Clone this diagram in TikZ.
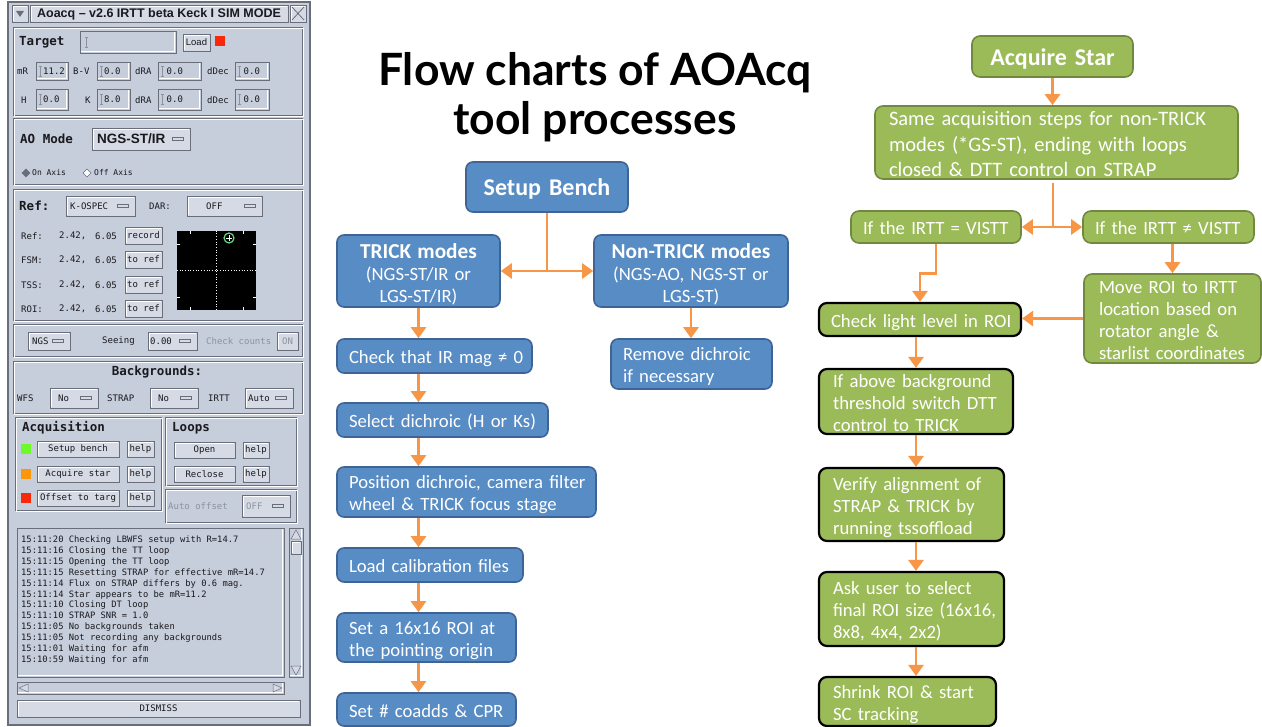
\documentclass[tikz,border=0pt]{standalone}
\usepackage{fontspec}
\setmainfont{Carlito}
\newfontfamily\gm{DejaVu Sans Mono}
\newfontfamily\gs{Liberation Sans}
\newfontfamily\tf{Lato}
\usetikzlibrary{arrows.meta,calc}
\definecolor{guibg}{RGB}{199,206,219}
\definecolor{btnface}{RGB}{213,218,228}
\definecolor{guidark}{RGB}{105,110,122}
\definecolor{guitext}{RGB}{25,25,30}
\definecolor{guigray}{RGB}{140,146,158}
\definecolor{guired}{RGB}{250,40,10}
\definecolor{guigreen}{RGB}{110,250,40}
\definecolor{guiorange}{RGB}{250,150,10}
\definecolor{starcol}{RGB}{100,215,130}
\definecolor{fcblue}{RGB}{88,140,197}
\definecolor{fcblueb}{RGB}{62,100,150}
\definecolor{fcgreen}{RGB}{155,187,89}
\definecolor{fcgreenb}{RGB}{113,137,63}
\definecolor{fcorange}{RGB}{247,150,70}
\tikzset{
  raised/.style={fill=btnface, draw=guidark, line width=0.6pt, inner sep=0pt,
    path picture={\draw[white, line width=1.2pt] ([shift={(1.2pt,1.2pt)}]path picture bounding box.south west) |- ([shift={(-1.2pt,-1.2pt)}]path picture bounding box.north east);}},
  sunken/.style={fill=guibg, draw=guidark, line width=0.6pt, inner sep=0pt,
    path picture={\draw[white, line width=1.2pt] ([shift={(1.2pt,1.2pt)}]path picture bounding box.south west) -| ([shift={(-1.2pt,-1.2pt)}]path picture bounding box.north east);}},
  small/.style={font=\gm\fontsize{9}{10}\selectfont, text=guitext, inner sep=0pt},
  lab/.style={font=\gm\bfseries\fontsize{12.5}{14}\selectfont, text=guitext, inner sep=0pt, anchor=west},
  bbox/.style={draw=fcblueb, fill=fcblue, line width=1.6pt, rounded corners=7pt, text=white,
    font=\fontsize{18.7}{22}\selectfont, inner xsep=12pt, inner ysep=0pt, align=left},
  gbx/.style={draw=fcgreenb, fill=fcgreen, line width=1.6pt, rounded corners=8pt, text=white,
    font=\fontsize{18.7}{22}\selectfont, inner xsep=13pt, inner ysep=0pt, align=left},
  kbx/.style={gbx, draw=black, line width=2.2pt},
  arr/.style={draw=fcorange, line width=2.8pt, -{Triangle[width=15pt,length=11pt]}}
}
\newcommand\lns[2][7.5pt]{\raisebox{-#1}[0pt][0pt]{\begin{tabular}{@{}l@{}}#2\end{tabular}}}
\newcommand\clns[2][7.5pt]{\raisebox{-#1}[0pt][0pt]{\begin{tabular}{@{}c@{}}#2\end{tabular}}}
\newcommand\gbox[7][]{\node[#1, minimum width={((#5)-(#3))*1pt}, minimum height={((#6)-(#4))*1pt}] (#2) at ({((#3)+(#5))/2},{((#4)+(#6))/2}) {#7};}
\newcommand\gpanel[4]{\draw[guidark, line width=0.7pt] (#1,#2) rectangle (#3,#4);
  \draw[white, line width=0.7pt] ({#1+1},{#2+1}) rectangle ({#3+1},{#4+1});}
\newcommand\gibeam[2]{\draw[guigray, line width=0.6pt] ({#1-1.5},{#2-5}) -- ({#1+1.5},{#2-5}) ({#1},{#2-5}) -- ({#1},{#2+5}) ({#1-1.5},{#2+5}) -- ({#1+1.5},{#2+5});}
\newcommand\gentry[6]{\gbox[sunken]{#1}{#2}{#3}{#4}{#5}{}
  \gibeam{#2+4}{(#3+#5)/2}
  \node[small, anchor=west] (#1t) at ({#2+7},{(#3+#5)/2}) {#6};}
\newcommand\gdd[7]{\gbox[raised]{#1}{#2}{#3}{#4}{#5}{}
  \draw[fill=btnface, draw=guidark, line width=0.5pt] ({#4-18},{(#3+#5)/2-1.5}) rectangle ({#4-7},{(#3+#5)/2+1.5});
  \node[small, anchor=west] (#1t) at (#6,{(#3+#5)/2}) {#7};}
\begin{document}
\begin{tikzpicture}[x=1pt,y=-1pt]
\useasboundingbox (0,0) rectangle (1262,727);
\clip (0,0) rectangle (1262,727);
% ================= GUI window =================
\draw[fill=guibg, draw=guidark, line width=1.2pt] (8,2) rectangle (310,725);
\gbox[raised]{tbl}{12}{5}{28}{22}{}
\draw[fill=guidark, draw=none] (16,11) -- (24,11) -- (20,17) -- cycle;
\gbox[raised]{tbar}{30}{5}{288}{22}{}
\node[font=\gs\bfseries\fontsize{12.5}{14}\selectfont, text=guitext, inner sep=0pt] (ttl) at (159,14) {Aoacq – v2.6 IRTT beta Keck I SIM MODE};
\gbox[raised]{tbx}{290}{5}{306}{22}{}
\draw[guidark, line width=0.8pt] (292,7) -- (304,20) (304,7) -- (292,20);
% --- Target panel
\gpanel{13}{27}{302}{115}
\node[lab] (tgtl) at (19,42) {Target};
\gbox[sunken]{tgte}{80}{31}{176}{53}{}
\gibeam{86}{42}
\gbox[raised,small,font=\gs\fontsize{9.5}{11}\selectfont]{loadb}{183}{34}{210}{51}{Load}
\gbox[fill=guired, inner sep=0pt]{redsq}{215}{36}{225}{46}{}
\node[small, anchor=west] (lmr) at (17,71) {mR};
\gentry{emr}{36}{62}{68}{80}{11.2}
\node[small, anchor=west] (lbv) at (73,71) {B-V};
\gentry{ebv}{97}{62}{130}{80}{0.0}
\node[small, anchor=west] (lra1) at (135,71) {dRA};
\gentry{era1}{158}{62}{201}{80}{\,0.0}
\node[small, anchor=west] (ldc1) at (207,71) {dDec};
\gentry{edc1}{235}{62}{269}{80}{\,0.0}
\node[small, anchor=west] (lh) at (21,100) {H};
\gentry{eh}{36}{89}{68}{110}{0.0}
\node[small, anchor=west] (lk) at (85,100) {K};
\gentry{ek}{97}{89}{130}{110}{8.0}
\node[small, anchor=west] (lra2) at (135,100) {dRA};
\gentry{era2}{158}{89}{201}{110}{\,0.0}
\node[small, anchor=west] (ldc2) at (207,100) {dDec};
\gentry{edc2}{235}{89}{269}{110}{\,0.0}
% --- AO mode panel
\gpanel{13}{118}{302}{184}
\node[lab] (aol) at (20,139) {AO Mode};
\gdd{aodd}{92}{128}{190}{150}{97}{\gs\bfseries\fontsize{13.5}{15}\selectfont NGS-ST/IR}
\draw[fill=guidark, draw=guidark, line width=0.5pt] (26,169) -- (30,173) -- (26,177) -- (22,173) -- cycle;
\node[small, font=\gm\fontsize{8}{9}\selectfont, anchor=west] (onax) at (32,173) {On Axis};
\draw[fill=white, draw=guidark, line width=0.5pt] (87,169) -- (91,173) -- (87,177) -- (83,173) -- cycle;
\node[small, font=\gm\fontsize{8}{9}\selectfont, anchor=west] (offax) at (94,173) {Off Axis};
% --- Ref panel
\gpanel{13}{189}{302}{320}
\node[lab] (refl) at (19,206) {Ref:};
\gdd{refdd}{66}{196}{135}{216}{70}{K-OSPEC}
\node[small, anchor=west] (darl) at (149,206) {DAR:};
\gdd{dardd}{187}{196}{262}{216}{206}{OFF}
\foreach \yy/\lb/\bt/\nm in {236/Ref:/record/ra, 260/FSM:/to ref/rb, 285/TSS:/to ref/rc, 309/ROI:/to ref/rd}{
  \node[small, anchor=west] (\nm l) at (21,\yy) {\lb};
  \node[small, anchor=west] (\nm x) at (59,\yy) {2.42,};
  \node[small, anchor=west] (\nm y) at (95,\yy) {6.05};
  \gbox[raised,small]{\nm b}{125}{\yy-9}{162}{\yy+8}{\bt}
}
\node[fill=black, minimum width=79pt, minimum height=79pt, inner sep=0pt] (scope) at (216.5,270.5) {};
\draw[white, dotted, line width=0.7pt] (scope.north) -- (scope.south) (scope.west) -- (scope.east);
\foreach \tx in {190,243}{\draw[white, line width=0.6pt] (\tx,231) -- (\tx,234) (\tx,307) -- (\tx,310);}
\foreach \ty in {244,297}{\draw[white, line width=0.6pt] (177,\ty) -- (180,\ty) (253,\ty) -- (256,\ty);}
\node[circle, draw=starcol, line width=1.2pt, minimum size=10pt, inner sep=0pt] (star) at (229,238) {};
\draw[white, line width=0.6pt] (226,238) -- (232,238) (229,235) -- (229,241);
% --- NGS / seeing panel
\gpanel{13}{324}{302}{356}
\gdd{ngsdd}{28}{332}{70}{350}{32}{NGS}
\node[small, anchor=west] (seel) at (102,341) {Seeing};
\gdd{seedd}{148}{332}{197}{350}{150}{0.00}
\node[small, anchor=west, text=guigray] (ccl) at (206,341) {Check counts};
\gbox[raised,small,text=guigray]{onb}{277}{332}{298}{350}{ON}
% --- Backgrounds panel
\gpanel{13}{361}{302}{413}
\node[lab, anchor=center] (bgl) at (157,372) {Backgrounds:};
\node[small, anchor=west] (wfsl) at (17,398) {WFS};
\gdd{wfsdd}{50}{388}{98}{408}{58}{No}
\node[small, anchor=west] (strl) at (107,398) {STRAP};
\gdd{strdd}{150}{388}{198}{408}{158}{No}
\node[small, anchor=west] (irl) at (208,398) {IRTT};
\gdd{irdd}{245}{388}{293}{408}{248}{Auto}
% --- Acquisition panel
\gpanel{15}{417}{161}{510}
\node[lab] (acql) at (22,428) {Acquisition};
\foreach \yy/\cc/\bt/\nm in {449/guigreen/Setup bench/aa, 474/guiorange/Acquire star/ab, 498/guired/Offset to targ/ac}{
  \gbox[fill=\cc, inner sep=0pt]{\nm s}{21}{\yy-5}{31}{\yy+5}{}
  \gbox[raised,small]{\nm b}{37}{\yy-8}{119}{\yy+8}{\bt}
  \gbox[raised,small]{\nm h}{127}{\yy-8}{154}{\yy+8}{help}
}
% --- Loops panel
\gpanel{165}{417}{296}{485}
\node[lab] (loopl) at (172,428) {Loops};
\gbox[raised,small]{openb}{174}{442}{235}{458}{Open}
\gbox[raised,small]{openh}{243}{442}{269}{458}{help}
\gbox[raised,small]{reclb}{174}{466}{235}{482}{Reclose}
\gbox[raised,small]{reclh}{243}{466}{269}{482}{help}
% --- Auto offset panel
\gpanel{165}{489}{296}{522}
\node[small, anchor=west, text=guigray] (aofl) at (168,506) {Auto offset};
\gdd{aofdd}{242}{495}{290}{517}{246}{\color{guigray}OFF}
% --- Log
\gbox[sunken]{logbox}{17}{528}{284}{677}{}
\node[small, font=\gm\fontsize{8.8}{10.85}\selectfont, anchor=north west, align=left] (logtxt) at (21,536) {15:11:20 Checking LBWFS setup with R=14.7\\15:11:16 Closing the TT loop\\15:11:15 Opening the TT loop\\15:11:15 Resetting STRAP for effective mR=14.7\\15:11:14 Flux on STRAP differs by 0.6 mag.\\15:11:14 Star appears to be mR=11.2\\15:11:10 Closing DT loop\\15:11:10 STRAP SNR = 1.0\\15:11:05 No backgrounds taken\\15:11:05 Not recording any backgrounds\\15:11:01 Waiting for afm\\15:10:59 Waiting for afm};
\gbox[sunken]{vscroll}{289}{528}{303}{677}{}
\draw[fill=btnface, draw=guidark, line width=0.5pt] (296,530) -- (301,539) -- (291,539) -- cycle;
\gbox[raised]{thumb}{291}{541}{301}{554}{}
\draw[fill=btnface, draw=guidark, line width=0.5pt] (296,675) -- (301,666) -- (291,666) -- cycle;
\gbox[sunken]{hscroll}{17}{682}{284}{694}{}
\draw[fill=btnface, draw=guidark, line width=0.5pt] (19,688) -- (28,684) -- (28,692) -- cycle;
\draw[fill=btnface, draw=guidark, line width=0.5pt] (282,688) -- (273,684) -- (273,692) -- cycle;
\gbox[raised,small]{dismiss}{17}{700}{300}{717}{DISMISS}
% ================= Title =================
\node[font=\tf\bfseries\fontsize{44.5}{49}\selectfont, align=center, text=black, inner sep=0pt] (title) at (595,97) {Flow charts of AOAcq\\tool processes};
% ================= Blue flow chart =================
\node[bbox, text width=138pt, align=center, minimum height=50pt, font=\bfseries\fontsize{24}{28}\selectfont] (setup) at (547,187) {\clns[9.5pt]{Setup Bench}};
\node[bbox, text width=139pt, align=center, minimum height=72pt] (trick) at (418.5,271) {\clns[9pt]{{\bfseries\fontsize{21.3}{22}\selectfont TRICK modes}\\(NGS-ST/IR or\\LGS-ST/IR)}};
\node[bbox, text width=170pt, align=center, minimum height=72pt] (nontrick) at (691,271) {\clns[9pt]{{\bfseries\fontsize{21.3}{22}\selectfont Non-TRICK modes}\\(NGS-AO, NGS-ST or\\LGS-ST)}};
\node[bbox, text width=171pt, minimum height=34pt] (check) at (434.5,356) {\lns{Check that IR mag ≠ 0}};
\node[bbox, text width=187pt, minimum height=34pt] (select) at (442.5,420) {\lns{Select dichroic (H or Ks)}};
\node[bbox, text width=235pt, minimum height=50pt] (position) at (466.5,492) {\lns{Position dichroic, camera filter\\wheel \& TRICK focus stage}};
\node[bbox, text width=162pt, minimum height=34pt] (load) at (430,565) {\lns{Load calibration files}};
\node[bbox, text width=155pt, minimum height=49pt] (roi) at (426.5,637.5) {\lns{Set a 16x16 ROI at\\the pointing origin}};
\node[bbox, text width=155pt, minimum height=33pt] (coadds) at (426.5,709.5) {\lns{Set \# coadds \& CPR}};
\node[bbox, text width=137pt, minimum height=50pt] (remove) at (691.5,364) {\lns{Remove dichroic\\if necessary}};
\draw[arr] (setup.south) |- (trick.east);
\draw[arr] (setup.south) |- (nontrick.west);
\draw[arr] (trick.south) -- (trick.south |- check.north);
\draw[arr] (trick.south |- check.south) -- (trick.south |- select.north);
\draw[arr] (trick.south |- select.south) -- (trick.south |- position.north);
\draw[arr] (trick.south |- position.south) -- (trick.south |- load.north);
\draw[arr] (trick.south |- load.south) -- (trick.south |- roi.north);
\draw[arr] (trick.south |- roi.south) -- (trick.south |- coadds.north);
\draw[arr] (nontrick.south) -- (nontrick.south |- remove.north);
% ================= Green flow chart =================
\node[gbx, text width=135pt, align=center, minimum height=41pt, font=\bfseries\fontsize{24}{28}\selectfont] (acq) at (1052.5,56.5) {\clns[9.5pt]{Acquire Star}};
\node[gbx, text width=335pt, inner xsep=14pt, minimum height=73pt, font=\fontsize{20.5}{25.3}\selectfont] (same) at (1056.5,142.5) {\lns[8.8pt]{Same acquisition steps for non-TRICK\\modes (*GS-ST), ending with loops\\closed \& DTT control on STRAP}};
\node[gbx, text width=146pt, inner xsep=12pt, minimum height=32pt] (ifeq) at (936,227) {\lns{If the IRTT = VISTT}};
\node[gbx, text width=147pt, inner xsep=12pt, minimum height=32pt] (ifne) at (1168.5,227) {\lns{If the IRTT ≠ VISTT}};
\node[gbx, text width=147pt, inner xsep=15pt, minimum height=89pt] (move) at (1172.5,318.5) {\lns{Move ROI to IRTT\\location based on\\rotator angle \&\\starlist coordinates}};
\node[kbx, text width=178pt, inner xsep=12pt, minimum height=33pt] (light) at (920,319.5) {\lns{Check light level in ROI}};
\node[kbx, text width=166pt, inner xsep=14pt, minimum height=65pt] (above) at (916,401.5) {\lns{If above background\\threshold switch DTT\\control to TRICK}};
\node[kbx, text width=157pt, inner xsep=14pt, minimum height=73pt] (verify) at (911.5,504.5) {\lns{Verify alignment of\\STRAP \& TRICK by\\running tssoffload}};
\node[kbx, text width=157pt, inner xsep=14pt, minimum height=74pt] (ask) at (911.5,609) {\lns{Ask user to select\\final ROI size (16x16,\\8x8, 4x4, 2x2)}};
\node[kbx, text width=149pt, inner xsep=14pt, minimum height=49pt] (shrink) at (907.5,701.5) {\lns{Shrink ROI \& start\\SC tracking}};
\coordinate (split) at (1053,183);
\draw[arr] (acq.south) -- (acq.south |- same.north);
\draw[arr] (split) |- (ifeq.east);
\draw[arr] (split) |- (ifne.west);
\draw[arr] (ifeq.south) -- ++(0,30) -| (light.north);
\draw[arr] (move.north |- ifne.south) -- (move.north);
\draw[arr] (move.west) -- (move.west -| light.east);
\draw[arr] (above.north |- light.south) -- (above.north);
\draw[arr] (above.south) -- (above.south |- verify.north);
\draw[arr] (above.south |- verify.south) -- (above.south |- ask.north);
\draw[arr] (above.south |- ask.south) -- (above.south |- shrink.north);
\end{tikzpicture}
\end{document}
